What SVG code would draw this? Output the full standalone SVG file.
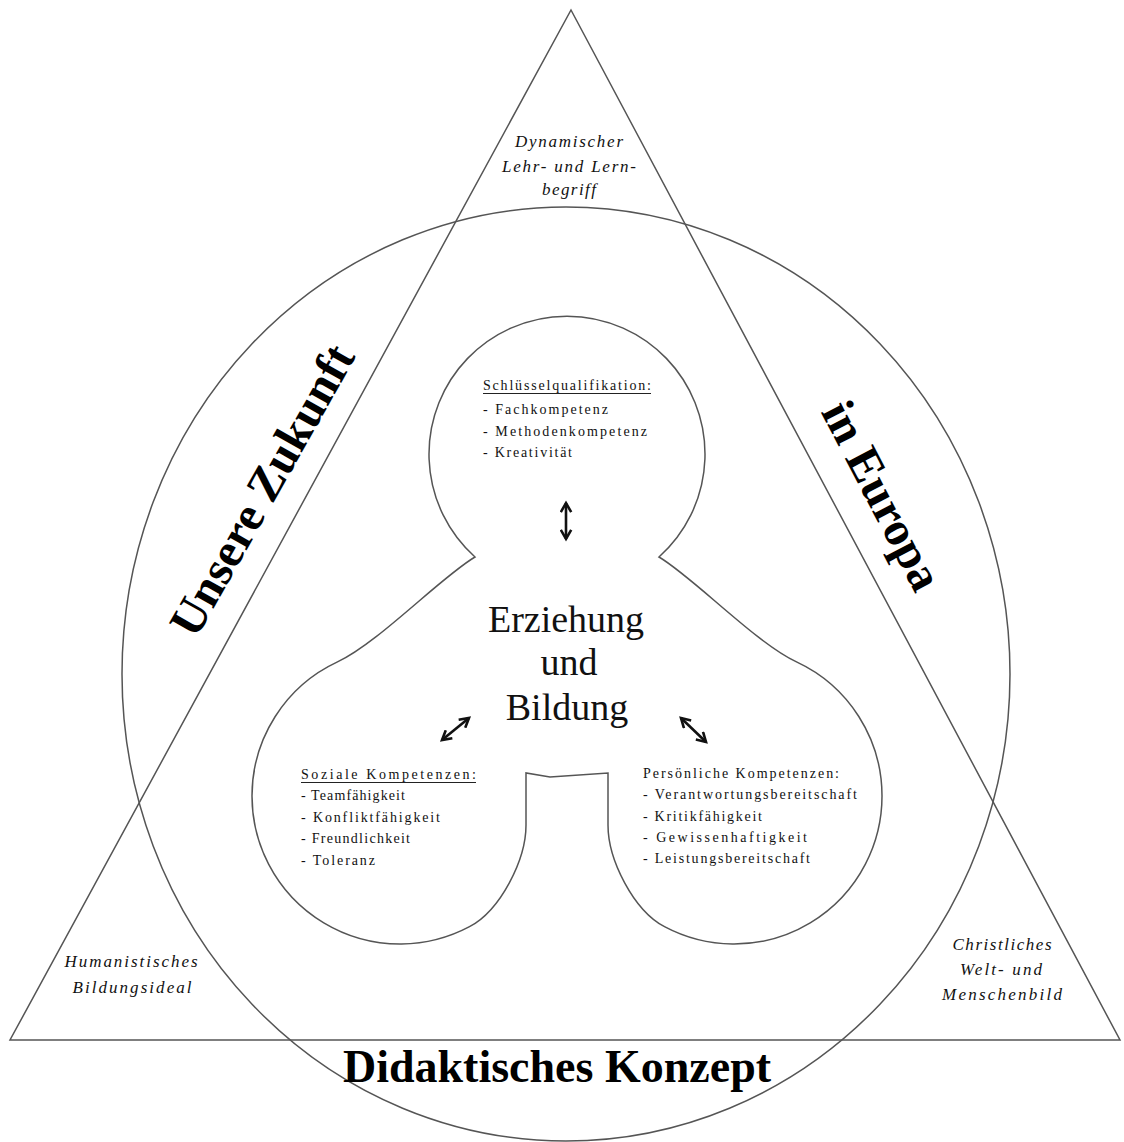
<svg xmlns="http://www.w3.org/2000/svg" width="1124" height="1142" viewBox="0 0 1124 1142">
<style>
.ln{fill:none;stroke:#555;stroke-width:1.5}
.ul{stroke:#222;stroke-width:1}
.sm{font-family:"Liberation Serif",serif;font-size:14px;fill:#111}
.it{font-family:"Liberation Serif",serif;font-size:17px;font-style:italic;fill:#111;text-anchor:middle}
.big{font-family:"Liberation Serif",serif;font-weight:bold;fill:#000}
.ctr{font-family:"Liberation Serif",serif;font-size:38px;fill:#111;text-anchor:middle}
.ar{fill:none;stroke:#111;stroke-width:2.6}
</style>
<defs>
<marker id="hd" viewBox="0 0 10 10" refX="8" refY="5" markerWidth="5" markerHeight="5" orient="auto-start-reverse" markerUnits="strokeWidth">
<path d="M1,1 L8,5 L1,9" fill="none" stroke="#111" stroke-width="2"/>
</marker>
</defs>
<rect width="1124" height="1142" fill="#fff"/>
<g id="frame">
<polygon class="ln" points="571,10 1120,1040 10,1040"/>
<ellipse class="ln" cx="566" cy="674" rx="444" ry="467"/>
</g>
<g id="trefoil">
<path class="ln" d="M475,557 A138,138 0 1 1 659,557 C693,577 755.7,642.9 796.5,661.9 A148,148 0 0 1 882,796 A148,148 0 0 1 664.5,926.7 C633.6,910.3 608,860 608,825 L608,773 L550,777 L526,773 L526,825 C526,860 500.4,910.3 469.5,926.7 A148,148 0 0 1 252,796 A148,148 0 0 1 337.5,661.9 C378.3,642.9 441,577 475,557 Z"/>
</g>
<g id="node-top-label">
<text class="it" x="569" y="147" textLength="108" lengthAdjust="spacing">Dynamischer</text>
<text class="it" x="569" y="172" textLength="134" lengthAdjust="spacing">Lehr- und Lern-</text>
<text class="it" x="569" y="195" textLength="54" lengthAdjust="spacing">begriff</text>
</g>
<g id="node-left-label">
<text class="it" x="131" y="967" textLength="133" lengthAdjust="spacing">Humanistisches</text>
<text class="it" x="132" y="993" textLength="119" lengthAdjust="spacing">Bildungsideal</text>
</g>
<g id="node-right-label">
<text class="it" x="1002" y="950" textLength="99" lengthAdjust="spacing">Christliches</text>
<text class="it" x="1001" y="975" textLength="82" lengthAdjust="spacing">Welt- und</text>
<text class="it" x="1002" y="1000" textLength="120" lengthAdjust="spacing">Menschenbild</text>
</g>
<g id="node-zukunft">
<text class="big" font-size="48" text-anchor="middle" transform="translate(276,498) rotate(-60.5)">Unsere Zukunft</text>
</g>
<g id="node-europa">
<text class="big" font-size="48" text-anchor="middle" transform="translate(868,503) rotate(62.5)">in Europa</text>
</g>
<g id="node-konzept">
<text class="big" font-size="46" x="557" y="1082" text-anchor="middle">Didaktisches Konzept</text>
</g>
<g id="node-center">
<text class="ctr" x="566" y="632">Erziehung</text>
<text class="ctr" x="569" y="675">und</text>
<text class="ctr" x="567" y="720">Bildung</text>
</g>
<g id="node-schluessel">
<text class="sm" x="483" y="390" textLength="168" lengthAdjust="spacing">Schlüsselqualifikation:</text>
<line class="ul" x1="483" y1="393.5" x2="651" y2="393.5"/>
<text class="sm" x="483" y="414" textLength="125" lengthAdjust="spacing">- Fachkompetenz</text>
<text class="sm" x="483" y="436" textLength="164" lengthAdjust="spacing">- Methodenkompetenz</text>
<text class="sm" x="483" y="457" textLength="89" lengthAdjust="spacing">- Kreativität</text>
</g>
<g id="node-sozial">
<text class="sm" x="301" y="779" textLength="175" lengthAdjust="spacing">Soziale Kompetenzen:</text>
<line class="ul" x1="301" y1="782.5" x2="476" y2="782.5"/>
<text class="sm" x="301" y="800" textLength="104" lengthAdjust="spacing">- Teamfähigkeit</text>
<text class="sm" x="301" y="822" textLength="139" lengthAdjust="spacing">- Konfliktfähigkeit</text>
<text class="sm" x="301" y="843" textLength="109" lengthAdjust="spacing">- Freundlichkeit</text>
<text class="sm" x="301" y="865" textLength="74" lengthAdjust="spacing">- Toleranz</text>
</g>
<g id="node-persoenlich">
<text class="sm" x="643" y="778" textLength="196" lengthAdjust="spacing">Persönliche Kompetenzen:</text>
<text class="sm" x="643" y="799" textLength="214" lengthAdjust="spacing">- Verantwortungsbereitschaft</text>
<text class="sm" x="643" y="821" textLength="119" lengthAdjust="spacing">- Kritikfähigkeit</text>
<text class="sm" x="643" y="842" textLength="164" lengthAdjust="spacing">- Gewissenhaftigkeit</text>
<text class="sm" x="643" y="863" textLength="167" lengthAdjust="spacing">- Leistungsbereitschaft</text>
</g>
<g id="connectors">
<line class="ar" x1="566" y1="503" x2="566" y2="539" marker-start="url(#hd)" marker-end="url(#hd)"/>
<line class="ar" x1="442" y1="740" x2="469" y2="718" marker-start="url(#hd)" marker-end="url(#hd)"/>
<line class="ar" x1="681" y1="718" x2="706" y2="742" marker-start="url(#hd)" marker-end="url(#hd)"/>
</g>
</svg>
